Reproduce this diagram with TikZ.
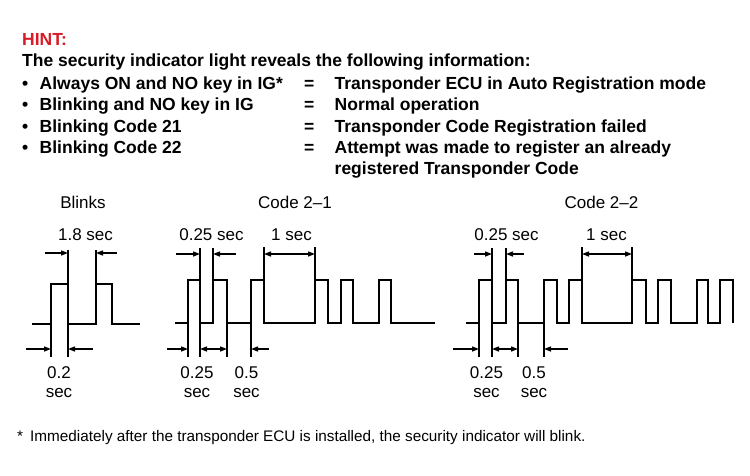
\documentclass[tikz,border=0pt]{standalone}
\usepackage{fontspec}
\setmainfont{Liberation Sans}
\usetikzlibrary{arrows.meta}
\definecolor{hintred}{RGB}{214,28,40}
\tikzset{
>={Triangle[length=7pt,width=5pt]},
  hinttext/.style={
    anchor=base west,
    inner sep=0pt,
    font=\fontsize{17.5}{21}\selectfont\bfseries},
  footnote/.style={
    anchor=base west,
    inner sep=0pt,
    font=\fontsize{15.3}{18}\selectfont},
  timelabel/.style={
    anchor=base,
    inner sep=0pt,
    font=\fontsize{17}{20}\selectfont},
  wave/.style={draw, line width=1.5pt},
  guide/.style={draw, line width=1.3pt},
  dimarrow/.style={draw, line width=1.3pt},
}

\begin{document}
\begin{tikzpicture}[x=1pt, y=-1pt]
     \useasboundingbox (0,0) rectangle (750,475);
     % hint text
     \node[hinttext, text=hintred] (HintTitle) at (22,45) {HINT:};
     \node[hinttext] (IntroLine) at (22,66.5) {The security indicator light reveals the following information:};
     \node[hinttext] (BulletA) at (22,89)    {\textbullet};
     \node[hinttext] (CaseA)   at (39.5,89)  {Always ON and NO key in IG*};
     \node[hinttext] (EqA)     at (304,89)   {=};
     \node[hinttext] (MeanA)   at (334.5,89) {Transponder ECU in Auto Registration mode};
     \node[hinttext] (BulletB) at (22,110.5) {\textbullet};
     \node[hinttext] (CaseB)   at (39.5,110.5) {Blinking and NO key in IG};
     \node[hinttext] (EqB)     at (304,110.5) {=};
     \node[hinttext] (MeanB)   at (334.5,110.5) {Normal operation};
     \node[hinttext] (BulletC) at (22,132)   {\textbullet};
     \node[hinttext] (CaseC)   at (39.5,132) {Blinking Code 21};
     \node[hinttext] (EqC)     at (304,132)  {=};
     \node[hinttext] (MeanC)   at (334.5,132) {Transponder Code Registration failed};
     \node[hinttext] (BulletD) at (22,153.5) {\textbullet};
     \node[hinttext] (CaseD)   at (39.5,153.5) {Blinking Code 22};
     \node[hinttext] (EqD)     at (304,153.5) {=};
     \node[hinttext] (MeanD)   at (334.5,153.5) {Attempt was made to register an already};
     \node[hinttext] (MeanDb)  at (334.5,174.5) {registered Transponder Code};

     % Blinks
     \node[timelabel] (BlinksTitle) at (83,208.5) {Blinks};
     \node[timelabel] (BlinksLong)  at (85.5,240) {1.8 sec};
     \node[timelabel] (BlinksShort) at (59,378)  {0.2};
     \node[timelabel] (BlinksSec)   at (59,397)  {sec};
     \path[wave] (32,324) -| (51,284) -| (68,324) -| (96,284) -| (112,324) -- (140,324);
     \path[guide] (51,284) -- (51,357);
     \path[guide] (68,250) -- (68,357);
     \path[guide] (96,250) -- (96,284);
     \path[dimarrow, ->] (45,253) -- (68,253);
     \path[dimarrow, ->] (117,253) -- (96,253);
     \path[dimarrow, ->] (26,349) -- (51,349);
     \path[dimarrow, ->] (93,349) -- (68,349);

     % Code 2-1
     \node[timelabel] (CodeOneTitle) at (295,208.5) {Code 2--1};
     \node[timelabel] (CodeOneQuart) at (211.5,240) {0.25 sec};
     \node[timelabel] (CodeOneSec)   at (291.5,240) {1 sec};
     \node[timelabel] (CodeOneOn)    at (197,378) {0.25};
     \node[timelabel] (CodeOneOnU)   at (197,397) {sec};
     \node[timelabel] (CodeOneGap)   at (246.5,378) {0.5};
     \node[timelabel] (CodeOneGapU)  at (246.5,397) {sec};
     \path[wave] (175,323) -| (188,280) -| (200,323) -| (213,280) -| (227,323) -| (251,280)
        -| (264,323) -| (315,280) -| (328,323) -| (341,280) -| (353,323) -| (379,280) -| (391,323) -- (435,323);
     \path[guide] (188,280) -- (188,357);
     \path[guide] (200,248) -- (200,357);
     \path[guide] (213,248) -- (213,280);
     \path[guide] (227,280) -- (227,357);
     \path[guide] (251,323) -- (251,357);
     \path[guide] (264,247) -- (264,280);
     \path[guide] (315,247) -- (315,280);
     \path[dimarrow, ->] (176,254) -- (200,254);
     \path[dimarrow, ->] (236,254) -- (213,254);
     \path[dimarrow, <->] (264,254) -- (315,254);
     \path[dimarrow, ->] (167,349) -- (188,349);
     \path[dimarrow, <->] (200,349) -- (227,349);
     \path[dimarrow, ->] (269,349) -- (251,349);

     % Code 2-2
     \node[timelabel] (CodeTwoTitle) at (601.5,208.5) {Code 2--2};
     \node[timelabel] (CodeTwoQuart) at (506.5,240) {0.25 sec};
     \node[timelabel] (CodeTwoSec)   at (606.5,240) {1 sec};
     \node[timelabel] (CodeTwoOn)    at (486.5,378) {0.25};
     \node[timelabel] (CodeTwoOnU)   at (486.5,397) {sec};
     \node[timelabel] (CodeTwoGap)   at (534,378) {0.5};
     \node[timelabel] (CodeTwoGapU)  at (534,397) {sec};
     \path[wave] (466,323) -| (479,280) -| (492,323) -| (506,280) -| (518,323) -| (544,280)
        -| (557,323) -| (569,280) -| (582,323) -| (632,280) -| (646,323) -| (658,280)
        -| (671,323) -| (697,280) -| (708,323) -| (720,280) -| (733,323);
     \path[guide] (479,280) -- (479,357);
     \path[guide] (492,248) -- (492,357);
     \path[guide] (506,248) -- (506,280);
     \path[guide] (518,280) -- (518,357);
     \path[guide] (544,323) -- (544,357);
     \path[guide] (582,247) -- (582,280);
     \path[guide] (632,247) -- (632,280);
     \path[dimarrow, ->] (474,254) -- (492,254);
     \path[dimarrow, ->] (524,254) -- (506,254);
     \path[dimarrow, <->] (582,254) -- (632,254);
     \path[dimarrow, ->] (453,349) -- (479,349);
     \path[dimarrow, <->] (492,349) -- (518,349);
     \path[dimarrow, ->] (568,349) -- (544,349);

     % footnote
     \node[footnote] (StarNote) at (17,441) {*};
     \node[footnote] (NoteText) at (30,441) {Immediately after the transponder ECU is installed, the security indicator will blink.};
\end{tikzpicture}
\end{document}
